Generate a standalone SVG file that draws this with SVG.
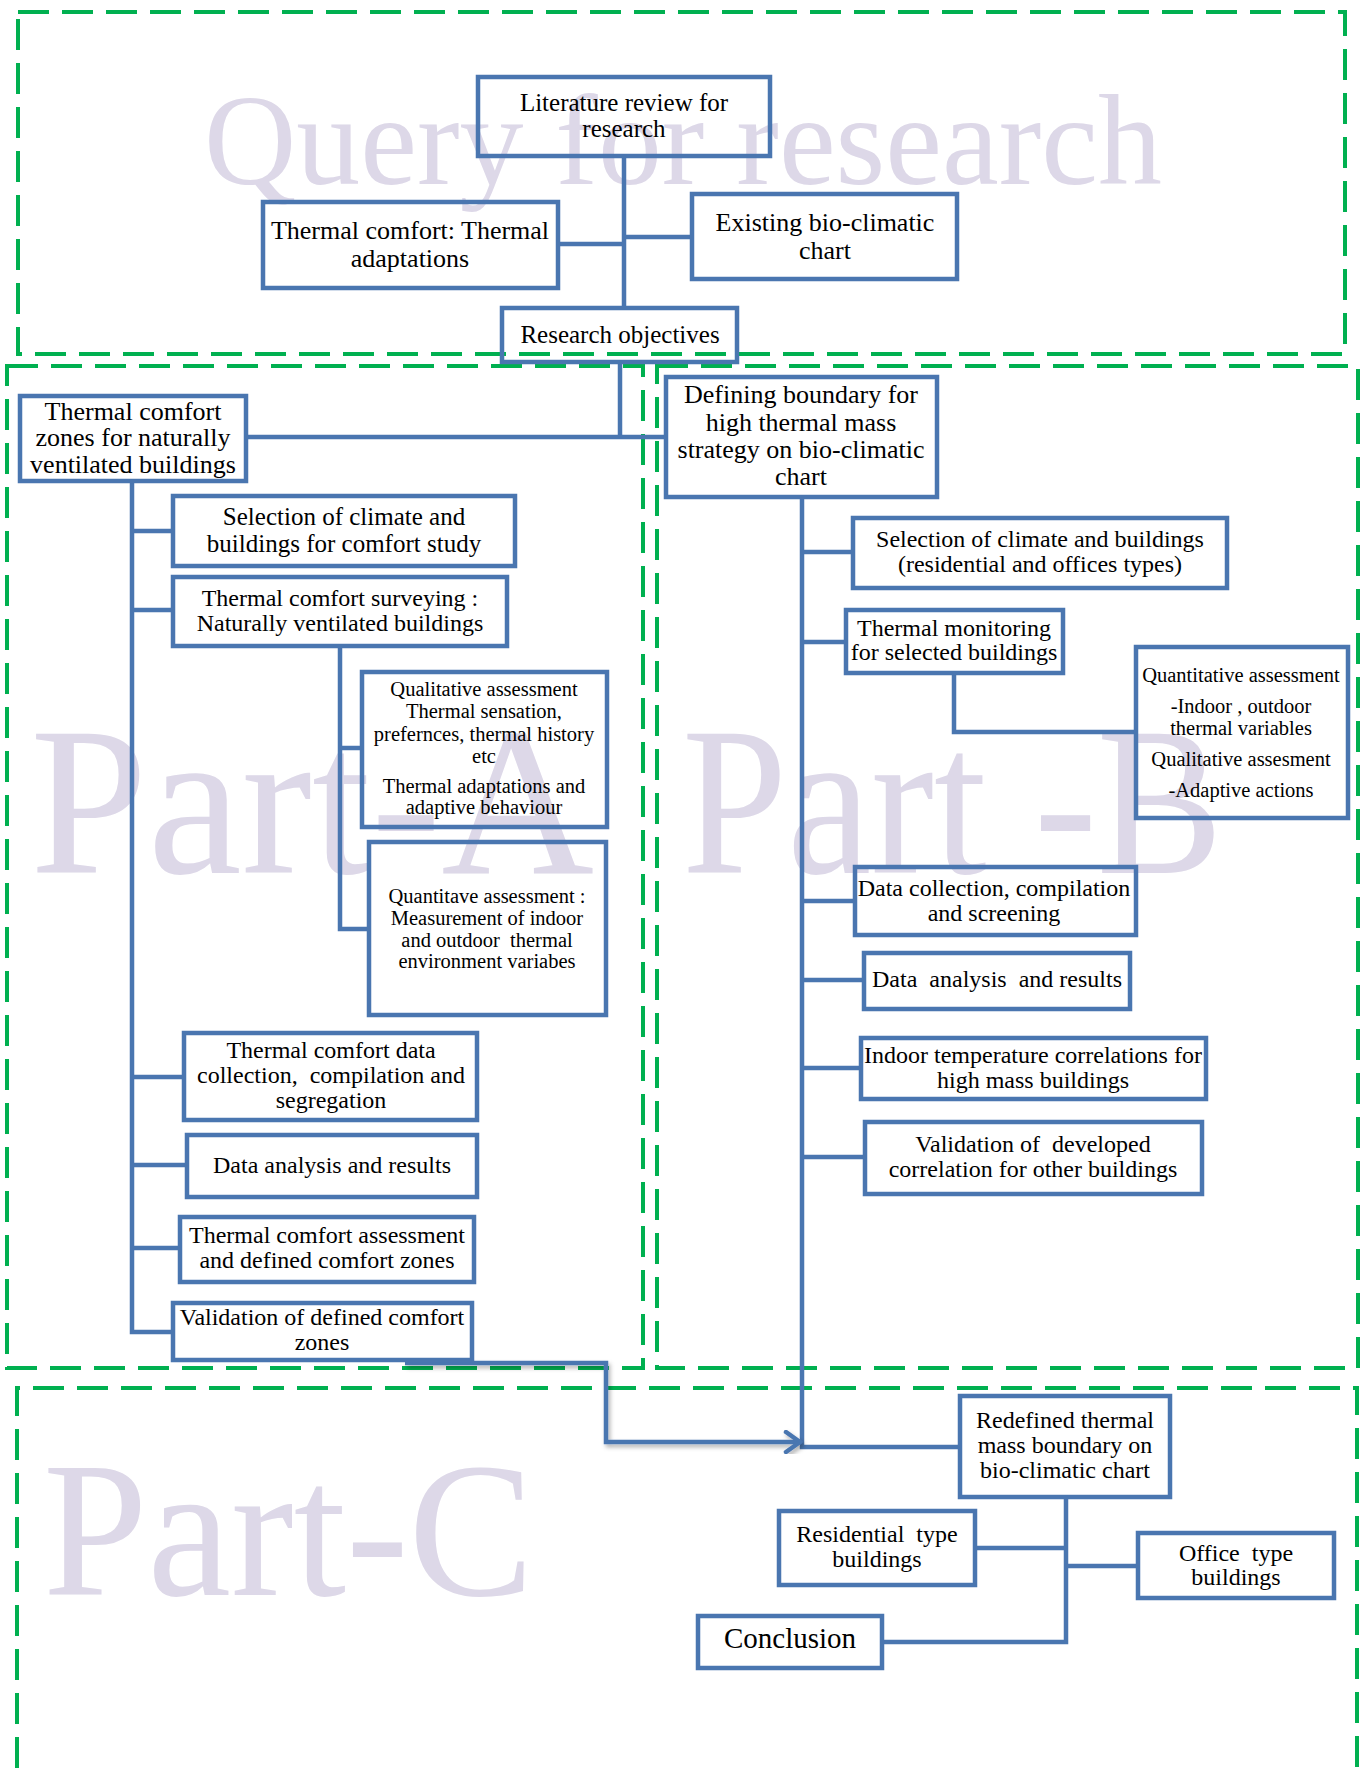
<svg xmlns="http://www.w3.org/2000/svg" width="1362" height="1768" viewBox="0 0 1362 1768">
<style>
.bg{fill:#ffffff}
.wm{fill:#ddd8e8;font-family:"Liberation Serif","Times New Roman",serif}
.frame{fill:none;stroke:#00b050;stroke-width:4;stroke-dasharray:31 13}
.box{fill:none;stroke:#4a76b0;stroke-width:4.5}
.ln{fill:none;stroke:#4a76b0;stroke-width:4.5}
.t{fill:#000;font-family:"Liberation Serif","Times New Roman",serif;text-anchor:middle}
.f26{font-size:26px}
.f25{font-size:25px}
.f24{font-size:24px}
.f20{font-size:20.5px}
.f29{font-size:29px}
</style>
<defs>
<marker id="chev" viewBox="0 0 20 24" refX="17" refY="12" markerWidth="20" markerHeight="24" markerUnits="userSpaceOnUse" orient="auto">
<path d="M3,2 L17,12 L3,22" fill="none" stroke="#4a76b0" stroke-width="4.5" stroke-linecap="round" stroke-linejoin="round"/>
</marker>
<filter id="sh" x="-5%" y="-5%" width="110%" height="120%">
<feDropShadow dx="2" dy="3" stdDeviation="2" flood-color="#000" flood-opacity="0.3"/>
</filter>
</defs>
<rect class="bg" x="0" y="0" width="1362" height="1768"/>

<g id="watermarks">
<text class="wm" x="204" y="184" font-size="130" textLength="958" lengthAdjust="spacingAndGlyphs">Query for research</text>
<text class="wm" x="30" y="873" font-size="212" textLength="564" lengthAdjust="spacingAndGlyphs">Part-A</text>
<text class="wm" x="682" y="873" font-size="212" textLength="541" lengthAdjust="spacingAndGlyphs">Part -B</text>
<text class="wm" x="43" y="1595" font-size="192" textLength="491" lengthAdjust="spacingAndGlyphs">Part-C</text>
</g>

<g id="frames">
<rect class="frame" x="18" y="12" width="1327" height="342"/>
<rect class="frame" x="7" y="366" width="636" height="1002"/>
<rect class="frame" x="657" y="366" width="701" height="1002"/>
<path class="frame" d="M17,1768 V1388 H1357 V1768"/>
</g>

<g id="connectors">
<path class="ln" d="M624,156 V308"/>
<path class="ln" d="M558,244 H624"/>
<path class="ln" d="M624,237 H692"/>
<path class="ln" d="M620,362 V437"/>
<path class="ln" d="M246,437 H666"/>
<path class="ln" d="M132,481 V1332 H173"/>
<path class="ln" d="M132,531 H173"/>
<path class="ln" d="M132,610 H173"/>
<path class="ln" d="M132,1077 H184"/>
<path class="ln" d="M132,1165 H187"/>
<path class="ln" d="M132,1248 H180"/>
<path class="ln" d="M340,646 V929 H369"/>
<path class="ln" d="M340,748 H362"/>
<path class="ln" d="M802,497 V1447 H960"/>
<path class="ln" d="M802,552 H853"/>
<path class="ln" d="M802,642 H846"/>
<path class="ln" d="M802,901 H855"/>
<path class="ln" d="M802,980 H864"/>
<path class="ln" d="M802,1068 H861"/>
<path class="ln" d="M802,1157 H865"/>
<path class="ln" d="M954,673 V732 H1136"/>
<path class="ln" d="M1066,1497 V1642 H882"/>
<path class="ln" d="M1066,1548 H975"/>
<path class="ln" d="M1066,1566 H1138"/>
<path class="ln" filter="url(#sh)" d="M405,1363 H606 V1442 H800" marker-end="url(#chev)"/>
</g>

<g id="n1"><rect class="box" x="478" y="77" width="292" height="79"/>
<text class="t f25" x="624" y="111">Literature review for</text><text class="t f25" x="624" y="137">research</text></g>
<g id="n2"><rect class="box" x="263" y="202" width="295" height="86"/>
<text class="t f26" x="410" y="239">Thermal comfort: Thermal</text><text class="t f26" x="410" y="267">adaptations</text></g>
<g id="n3"><rect class="box" x="692" y="194" width="265" height="85"/>
<text class="t f26" x="825" y="231">Existing bio-climatic</text><text class="t f26" x="825" y="259">chart</text></g>
<g id="n4"><rect class="box" x="502" y="308" width="235" height="54"/>
<text class="t f25" x="620" y="343">Research objectives</text></g>

<g id="n5"><rect class="box" x="20" y="396" width="226" height="85"/>
<text class="t f26" x="133" y="420">Thermal comfort</text><text class="t f26" x="133" y="446">zones for naturally</text><text class="t f26" x="133" y="473">ventilated buildings</text></g>
<g id="n6"><rect class="box" x="173" y="496" width="342" height="70"/>
<text class="t f25" x="344" y="525">Selection of climate and</text><text class="t f25" x="344" y="552">buildings for comfort study</text></g>
<g id="n7"><rect class="box" x="173" y="577" width="334" height="69"/>
<text class="t f24" x="340" y="606">Thermal comfort surveying :</text><text class="t f24" x="340" y="631">Naturally ventilated buildings</text></g>
<g id="n8"><rect class="box" x="362" y="672" width="245" height="155"/>
<text class="t f20" x="484" y="696">Qualitative assessment</text>
<text class="t f20" x="484" y="718">Thermal sensation,</text>
<text class="t f20" x="484" y="741">prefernces, thermal history</text>
<text class="t f20" x="484" y="763">etc</text>
<text class="t f20" x="484" y="793">Thermal adaptations and</text>
<text class="t f20" x="484" y="814">adaptive behaviour</text></g>
<g id="n9"><rect class="box" x="369" y="842" width="237" height="173"/>
<text class="t f20" x="487" y="903">Quantitave assessment :</text>
<text class="t f20" x="487" y="925">Measurement of indoor</text>
<text class="t f20" x="487" y="947" xml:space="preserve">and outdoor  thermal</text>
<text class="t f20" x="487" y="968">environment variabes</text></g>
<g id="n10"><rect class="box" x="184" y="1033" width="293" height="87"/>
<text class="t f24" x="331" y="1058">Thermal comfort data</text><text class="t f24" x="331" y="1083" xml:space="preserve">collection,  compilation and</text><text class="t f24" x="331" y="1108">segregation</text></g>
<g id="n11"><rect class="box" x="187" y="1135" width="290" height="62"/>
<text class="t f24" x="332" y="1173">Data analysis and results</text></g>
<g id="n12"><rect class="box" x="180" y="1217" width="294" height="65"/>
<text class="t f24" x="327" y="1243">Thermal comfort assessment</text><text class="t f24" x="327" y="1268">and defined comfort zones</text></g>
<g id="n13"><rect class="box" x="173" y="1303" width="299" height="57"/>
<text class="t f24" x="322" y="1325">Validation of defined comfort</text><text class="t f24" x="322" y="1350">zones</text></g>

<g id="n14"><rect class="box" x="666" y="377" width="271" height="120"/>
<text class="t f26" x="801" y="403">Defining boundary for</text><text class="t f26" x="801" y="431">high thermal mass</text><text class="t f26" x="801" y="458">strategy on bio-climatic</text><text class="t f26" x="801" y="485">chart</text></g>
<g id="n15"><rect class="box" x="853" y="518" width="374" height="70"/>
<text class="t f24" x="1040" y="547">Selection of climate and buildings</text><text class="t f24" x="1040" y="572">(residential and offices types)</text></g>
<g id="n16"><rect class="box" x="846" y="610" width="217" height="63"/>
<text class="t f24" x="954" y="636">Thermal monitoring</text><text class="t f24" x="954" y="660">for selected buildings</text></g>
<g id="n17"><rect class="box" x="1136" y="647" width="212" height="171"/>
<text class="t f20" x="1241" y="682">Quantitative assessment</text>
<text class="t f20" x="1241" y="713">-Indoor , outdoor</text>
<text class="t f20" x="1241" y="735">thermal variables</text>
<text class="t f20" x="1241" y="766">Qualitative assesment</text>
<text class="t f20" x="1241" y="797">-Adaptive actions</text></g>
<g id="n18"><rect class="box" x="855" y="867" width="281" height="68"/>
<text class="t f24" x="994" y="896">Data collection, compilation</text><text class="t f24" x="994" y="921">and screening</text></g>
<g id="n19"><rect class="box" x="864" y="953" width="266" height="56"/>
<text class="t f24" x="997" y="987" xml:space="preserve">Data  analysis  and results</text></g>
<g id="n20"><rect class="box" x="861" y="1038" width="345" height="61"/>
<text class="t f24" x="1033" y="1063">Indoor temperature correlations for</text><text class="t f24" x="1033" y="1088">high mass buildings</text></g>
<g id="n21"><rect class="box" x="865" y="1122" width="337" height="72"/>
<text class="t f24" x="1033" y="1152" xml:space="preserve">Validation of  developed</text><text class="t f24" x="1033" y="1177">correlation for other buildings</text></g>

<g id="n22"><rect class="box" x="960" y="1396" width="210" height="101"/>
<text class="t f24" x="1065" y="1428">Redefined thermal</text><text class="t f24" x="1065" y="1453">mass boundary on</text><text class="t f24" x="1065" y="1478">bio-climatic chart</text></g>
<g id="n23"><rect class="box" x="779" y="1511" width="196" height="74"/>
<text class="t f24" x="877" y="1542" xml:space="preserve">Residential  type</text><text class="t f24" x="877" y="1567">buildings</text></g>
<g id="n24"><rect class="box" x="1138" y="1533" width="196" height="65"/>
<text class="t f24" x="1236" y="1561" xml:space="preserve">Office  type</text><text class="t f24" x="1236" y="1585">buildings</text></g>
<g id="n25"><rect class="box" x="698" y="1616" width="184" height="52"/>
<text class="t f29" x="790" y="1648">Conclusion</text></g>
</svg>
